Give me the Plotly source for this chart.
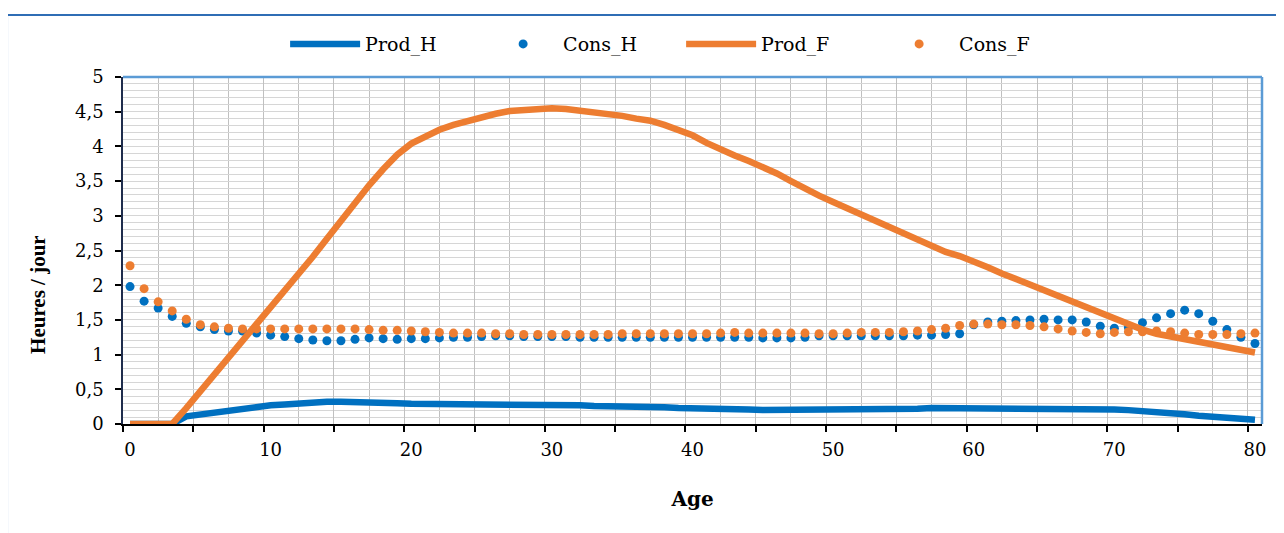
import plotly.graph_objects as go

# ---------------------------------------------------------------------------
# Data (hours per day by age)
# ---------------------------------------------------------------------------
AGES = list(range(81))

PROD_H = [
    0.00, 0.00, 0.00, 0.00, 0.11, 0.14, 0.17, 0.20, 0.23, 0.25,
    0.27, 0.28, 0.30, 0.31, 0.32, 0.32, 0.32, 0.31, 0.31, 0.30,
    0.29, 0.29, 0.28, 0.27, 0.27, 0.27, 0.27, 0.27, 0.28, 0.28,
    0.27, 0.27, 0.27, 0.26, 0.26, 0.26, 0.26, 0.25, 0.24, 0.23,
    0.23, 0.22, 0.22, 0.21, 0.21, 0.20, 0.20, 0.20, 0.21, 0.21,
    0.21, 0.21, 0.22, 0.22, 0.22, 0.22, 0.22, 0.23, 0.23, 0.23,
    0.23, 0.23, 0.23, 0.23, 0.22, 0.22, 0.22, 0.22, 0.22, 0.21,
    0.21, 0.20, 0.19, 0.17, 0.15, 0.14, 0.12, 0.10, 0.08, 0.07,
    0.06,
]

CONS_H = [
    1.98, 1.77, 1.67, 1.55, 1.45, 1.40, 1.36, 1.34, 1.34, 1.31,
    1.28, 1.26, 1.23, 1.21, 1.20, 1.20, 1.22, 1.24, 1.23, 1.22,
    1.23, 1.23, 1.24, 1.25, 1.25, 1.26, 1.27, 1.27, 1.26, 1.26,
    1.26, 1.26, 1.25, 1.25, 1.25, 1.25, 1.25, 1.25, 1.25, 1.25,
    1.25, 1.25, 1.25, 1.25, 1.25, 1.24, 1.24, 1.24, 1.25, 1.27,
    1.27, 1.27, 1.27, 1.27, 1.27, 1.27, 1.28, 1.28, 1.29, 1.30,
    1.43, 1.47, 1.48, 1.49, 1.50, 1.51, 1.50, 1.50, 1.47, 1.41,
    1.38, 1.39, 1.46, 1.53, 1.59, 1.64, 1.59, 1.48, 1.36, 1.25,
    1.16,
]

PROD_F = [
    0.00, 0.00, 0.00, 0.00, 0.23, 0.47, 0.71, 0.95, 1.19, 1.43,
    1.67, 1.92, 2.16, 2.41, 2.67, 2.93, 3.18, 3.44, 3.67, 3.88,
    4.04, 4.15, 4.24, 4.31, 4.37, 4.42, 4.47, 4.51, 4.53, 4.55,
    4.55, 4.54, 4.52, 4.50, 4.47, 4.44, 4.40, 4.37, 4.31, 4.24,
    4.16, 4.05, 3.95, 3.87, 3.79, 3.71, 3.61, 3.50, 3.39, 3.29,
    3.20, 3.11, 3.02, 2.94, 2.85, 2.75, 2.65, 2.56, 2.48, 2.42,
    2.35, 2.26, 2.17, 2.09, 2.01, 1.92, 1.84, 1.75, 1.67, 1.59,
    1.51, 1.44, 1.36, 1.30, 1.26, 1.23, 1.20, 1.16, 1.12, 1.08,
    1.03,
]

CONS_F = [
    2.28, 1.95, 1.76, 1.63, 1.51, 1.43, 1.40, 1.38, 1.37, 1.37,
    1.37, 1.37, 1.37, 1.37, 1.37, 1.37, 1.37, 1.36, 1.35, 1.35,
    1.34, 1.33, 1.32, 1.31, 1.31, 1.31, 1.30, 1.30, 1.29, 1.29,
    1.29, 1.29, 1.29, 1.29, 1.29, 1.30, 1.30, 1.30, 1.30, 1.30,
    1.30, 1.30, 1.31, 1.32, 1.31, 1.31, 1.31, 1.31, 1.31, 1.30,
    1.30, 1.31, 1.32, 1.32, 1.32, 1.33, 1.34, 1.36, 1.38, 1.42,
    1.44, 1.44, 1.43, 1.43, 1.42, 1.40, 1.37, 1.34, 1.32, 1.30,
    1.32, 1.33, 1.33, 1.34, 1.33, 1.31, 1.29, 1.29, 1.29, 1.30,
    1.31,
]

X_TICKS = [-0.5 + 5 * k for k in range(17)]
X_TICK_TEXT = [str(5 * k) if k % 2 == 0 else "" for k in range(17)]

# ---------------------------------------------------------------------------
# Style
# ---------------------------------------------------------------------------
BLUE = "#0070c0"
ORANGE = "#ed7d31"
GRID_V = "#c0c0c0"
GRID_H = "#d6d6d6"
FRAME = "#5b9bd5"
FONT = "DejaVu Serif"        # wide serif, close to the stretched Times of the original
FONT_NARROW = "Liberation Serif"

fig = go.Figure()

fig.add_trace(go.Scatter(x=AGES, y=PROD_H, mode="lines", name="Prod_H",
                         line=dict(color=BLUE, width=6.5)))
fig.add_trace(go.Scatter(x=AGES, y=CONS_H, mode="markers", name="Cons_H",
                         marker=dict(color=BLUE, size=9)))
fig.add_trace(go.Scatter(x=AGES, y=PROD_F, mode="lines", name="Prod_F",
                         line=dict(color=ORANGE, width=6.5)))
fig.add_trace(go.Scatter(x=AGES, y=CONS_F, mode="markers", name="Cons_F",
                         marker=dict(color=ORANGE, size=9)))

fig.update_xaxes(
    range=[-0.5, 80.5], automargin=False,
    tickmode="array", tickvals=X_TICKS, ticktext=X_TICK_TEXT,
    ticklabelshift=7, ticklabelstandoff=3,
    ticks="outside", ticklen=6, tickwidth=1.5, tickcolor="black",
    showline=True, linecolor="black", linewidth=1.5,
    showgrid=True, gridcolor=GRID_V, gridwidth=1,
    minor=dict(tick0=-0.5, dtick=2.5, showgrid=True, gridcolor=GRID_V, gridwidth=1),
    zeroline=False,
    tickfont=dict(family=FONT, size=18, color="black"),
    title=dict(text="<b>Age</b>", font=dict(family=FONT, size=20, color="black"), standoff=33),
)
fig.update_yaxes(
    range=[0, 5], dtick=0.5, automargin=False,
    ticks="outside", ticklen=6, tickwidth=1.5, tickcolor="black",
    ticklabelstandoff=8,
    showline=True, linecolor="#1f2d4d", linewidth=1.5,
    showgrid=True, gridcolor=GRID_H, gridwidth=1,
    minor=dict(dtick=0.1, showgrid=True, gridcolor=GRID_H, gridwidth=1),
    zeroline=False,
    tickfont=dict(family=FONT, size=18, color="black"),
)

# the page body adds an 8px offset, so the margins are shifted by that much
fig.update_layout(
    width=1284, height=533,
    margin=dict(l=115, r=30, t=69, b=117),
    paper_bgcolor="white", plot_bgcolor="white",
    separators=", ",
    font=dict(family=FONT, size=18, color="black"),
    showlegend=True,
    legend=dict(orientation="h", x=0.49, xanchor="center", y=1.095, yanchor="middle",
                itemwidth=70, entrywidth=113,
                font=dict(family=FONT, size=19, color="black"),
                bgcolor="rgba(0,0,0,0)"),
    annotations=[dict(text="<b>Heures / jour</b>", textangle=-90,
                      xref="paper", yref="paper", x=-0.0746, y=0.372,
                      xanchor="center", yanchor="middle",
                      showarrow=False, font=dict(family=FONT_NARROW, size=21, color="black"))],
    shapes=[
        # outer chart frame
        dict(type="rect", xref="paper", yref="paper", x0=-0.1018, y0=-0.4,
             x1=1.05, y1=1.1787, line=dict(color="#2f6db5", width=2)),
        # plot area frame (top and right)
        dict(type="line", xref="paper", yref="paper", x0=0, y0=1, x1=1, y1=1,
             line=dict(color=FRAME, width=2.5)),
        dict(type="line", xref="paper", yref="paper", x0=1, y0=0, x1=1, y1=1,
             line=dict(color=FRAME, width=2.5)),
    ],
)

fig.write_html("out.html")
